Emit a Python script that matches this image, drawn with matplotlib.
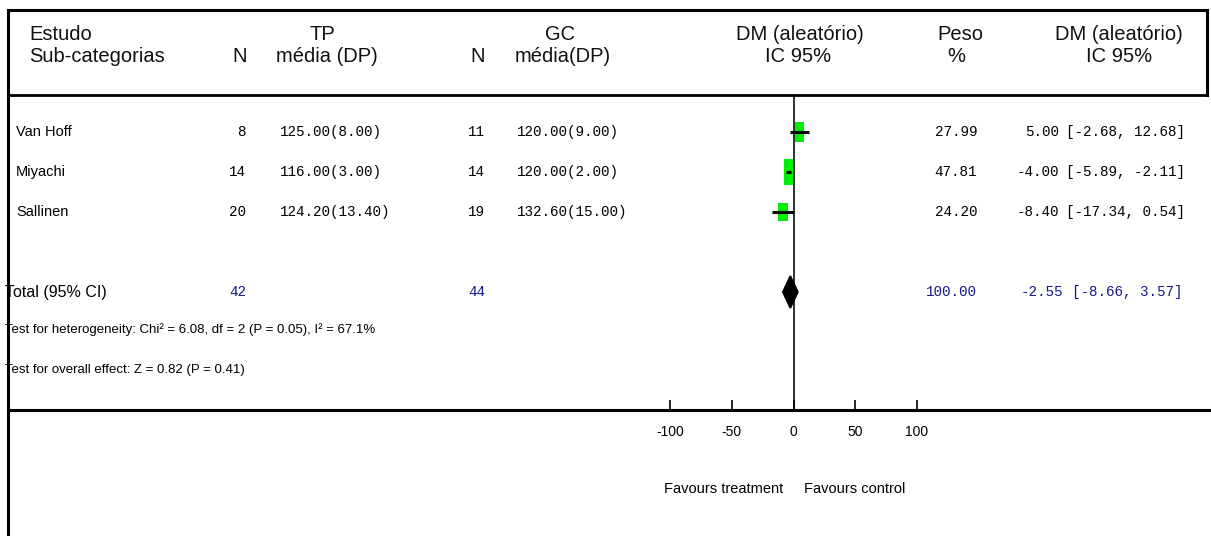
import matplotlib
matplotlib.use("Agg")
import numpy as np
import matplotlib.pyplot as plt
from matplotlib.lines import Line2D
from matplotlib.patches import Rectangle, Polygon
from matplotlib.transforms import blended_transform_factory

plt.rcParams['axes.unicode_minus'] = False

# --- data ---
studies = ['Van Hoff', 'Miyachi', 'Sallinen']
n_tp = [8, 14, 20]
mean_tp = [125.00, 116.00, 124.20]
sd_tp = [8.00, 3.00, 13.40]
n_gc = [11, 14, 19]
mean_gc = [120.00, 120.00, 132.60]
sd_gc = [9.00, 2.00, 15.00]
weights = [27.99, 47.81, 24.20]
md = [5.00, -4.00, -8.40]
ci_lo = [-2.68, -5.89, -17.34]
ci_hi = [12.68, -2.11, 0.54]

total_n_tp = 42
total_n_gc = 44
total_weight = 100.00
total_md = -2.55
total_lo = -8.66
total_hi = 3.57

het_text = 'Test for heterogeneity: Chi² = 6.08, df = 2 (P = 0.05), I² = 67.1%'
overall_text = 'Test for overall effect: Z = 0.82 (P = 0.41)'

x_ticks = [-100, -50, 0, 50, 100]

W, H = 1211, 536
fig = plt.figure(figsize=(W / 100, H / 100), dpi=100)

# forest axes: x -100..100 spans pixels 670..917, rows between header and axis line
ax = fig.add_axes([670 / W, 1 - 410 / H, 247 / W, 315 / H])
ax.set_xlim(-100, 100)
row_h = 40.0
ax.set_ylim((410 - 132) / row_h, (95 - 132) / row_h)
for s in ax.spines.values():
    s.set_visible(False)
ax.set_yticks([])
ax.set_xticks(x_ticks)
ax.set_xticklabels([str(t) for t in x_ticks], fontsize=10, family='Liberation Sans')
ax.tick_params(axis='x', direction='in', length=7, width=1.2, pad=11)
ax.axvline(0, color='#222222', lw=1.3, zorder=1)

rows = np.arange(len(studies))
total_row = 4
het_row = 4.93
overall_row = 5.95

# study boxes and CIs
box_w = 7.5
for i, r in enumerate(rows):
    bh = 3.8 * np.sqrt(weights[i]) / row_h
    ax.add_patch(Rectangle((md[i] - box_w / 2, r - bh / 2), box_w, bh,
                           facecolor='#00ee00', edgecolor='none', zorder=2))
    ax.plot([ci_lo[i], ci_hi[i]], [r, r], color='black', lw=2.2, zorder=3,
            solid_capstyle='butt')

# pooled diamond
dh = 16 / row_h
ax.add_patch(Polygon([(total_lo, total_row), (total_md, total_row - dh),
                      (total_hi, total_row), (total_md, total_row + dh)],
                     closed=True, facecolor='black', edgecolor='black', lw=1.2, zorder=3))

# text columns: x in figure pixels, y in forest rows
tr = blended_transform_factory(fig.transFigure, ax.transData)
def px(x):
    return x / W

mono = dict(family='Liberation Mono', fontsize=10.3, va='center', transform=tr)
name = dict(family='Liberation Sans', fontsize=10.5, va='center', transform=tr)
small = dict(family='Liberation Sans', fontsize=9.5, va='center', transform=tr)
blue = '#17178c'

for i, r in enumerate(rows):
    fig.text(px(16), r, studies[i], ha='left', **name)
    fig.text(px(246), r, str(n_tp[i]), ha='right', **mono)
    fig.text(px(280), r, f'{mean_tp[i]:.2f}({sd_tp[i]:.2f})', ha='left', **mono)
    fig.text(px(485), r, str(n_gc[i]), ha='right', **mono)
    fig.text(px(517), r, f'{mean_gc[i]:.2f}({sd_gc[i]:.2f})', ha='left', **mono)
    fig.text(px(977), r, f'{weights[i]:.2f}', ha='right', **mono)
    fig.text(px(1059), r, f'{md[i]:.2f}', ha='right', **mono)
    fig.text(px(1066), r, f'[{ci_lo[i]:.2f}, {ci_hi[i]:.2f}]', ha='left', **mono)

fig.text(px(5), total_row, 'Total (95% CI)', ha='left', family='Liberation Sans',
         fontsize=11.5, va='center', transform=tr)
fig.text(px(246), total_row, str(total_n_tp), ha='right', color=blue, **mono)
fig.text(px(485), total_row, str(total_n_gc), ha='right', color=blue, **mono)
fig.text(px(977), total_row, f'{total_weight:.2f}', ha='right', color=blue, **mono)
fig.text(px(1063), total_row, f'{total_md:.2f}', ha='right', color=blue, **mono)
fig.text(px(1072), total_row, f'[{total_lo:.2f}, {total_hi:.2f}]', ha='left', color=blue, **mono)
fig.text(px(5), het_row, het_text, ha='left', **small)
fig.text(px(5), overall_row, overall_text, ha='left', **small)

# header
hdr = dict(family='Liberation Sans', fontsize=14.5, va='center', color='#111111')
y1, y2 = 1 - 34 / H, 1 - 57 / H
fig.text(px(29), y1, 'Estudo', ha='left', **hdr)
fig.text(px(29), y2, 'Sub-categorias', ha='left', **hdr)
fig.text(px(240), y2, 'N', ha='center', **hdr)
fig.text(px(322), y1, 'TP', ha='center', **hdr)
fig.text(px(327), y2, 'média (DP)', ha='center', **hdr)
fig.text(px(478), y2, 'N', ha='center', **hdr)
fig.text(px(560), y1, 'GC', ha='center', **hdr)
fig.text(px(563), y2, 'média(DP)', ha='center', **hdr)
fig.text(px(800), y1, 'DM (aleatório)', ha='center', **hdr)
fig.text(px(798), y2, 'IC 95%', ha='center', **hdr)
fig.text(px(960), y1, 'Peso', ha='center', **hdr)
fig.text(px(956), y2, '%', ha='center', **hdr)
fig.text(px(1119), y1, 'DM (aleatório)', ha='center', **hdr)
fig.text(px(1119), y2, 'IC 95%', ha='center', **hdr)

# favours labels
fav = dict(family='Liberation Sans', fontsize=10.5, va='center')
fig.text(px(783), 1 - 489 / H, 'Favours treatment', ha='right', **fav)
fig.text(px(804), 1 - 489 / H, 'Favours control', ha='left', **fav)

# frame lines
def fline(x0, y0, x1, y1, lw):
    fig.add_artist(Line2D([px(x0), px(x1)], [1 - y0 / H, 1 - y1 / H],
                          transform=fig.transFigure, color='black', lw=lw,
                          solid_capstyle='projecting', zorder=10))

fline(8, 9.5, 1207, 9.5, 2.2)
fline(8, 9.5, 8, H + 2, 2.2)
fline(1207, 9.5, 1207, 95, 2.2)
fline(8, 95, 1207, 95, 2.0)
fline(8, 410, W + 2, 410, 2.2)

fig.savefig('out.png', dpi=100)
